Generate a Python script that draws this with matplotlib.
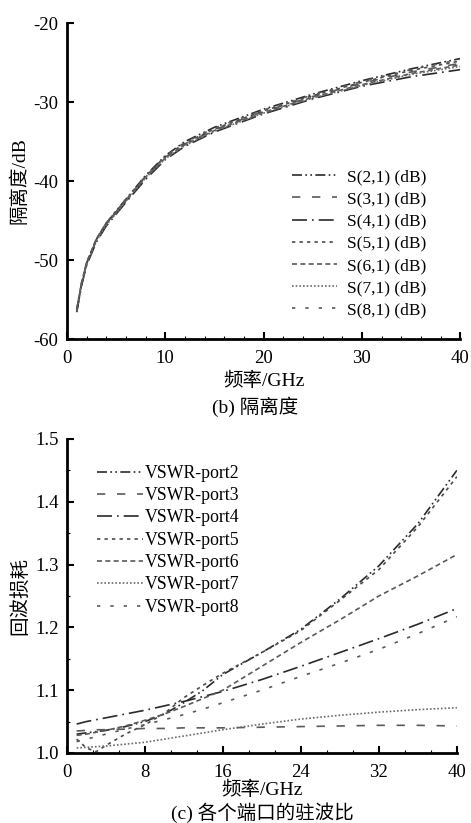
import numpy as np
import matplotlib
matplotlib.use('Agg')
from matplotlib import pyplot as plt
from matplotlib.ticker import MultipleLocator, FormatStrFormatter

plt.rcParams['font.family'] = ['Liberation Serif', 'Noto Sans CJK SC']
plt.rcParams['axes.unicode_minus'] = False

# (b) 隔离度 data
freq_iso = [1, 1.5, 2, 3, 4, 5, 6, 8, 10, 12, 15, 20, 25, 30, 35, 40]
s21 = [-56.5, -53.0, -50.4, -47.4, -45.4, -43.8, -42.3, -39.3, -36.8, -35.0, -33.2, -30.9, -29.0, -27.3, -25.8, -24.5]
s31 = [-56.3, -52.9, -50.5, -47.5, -45.5, -44.0, -42.5, -39.5, -37.0, -35.3, -33.5, -31.2, -29.3, -27.6, -26.2, -25.1]
s41 = [-56.6, -53.2, -50.7, -47.7, -45.7, -44.2, -42.7, -39.8, -37.3, -35.6, -33.8, -31.5, -29.6, -28.0, -26.8, -25.9]
s51 = [-56.4, -53.0, -50.5, -47.4, -45.3, -43.8, -42.4, -39.4, -36.9, -35.2, -33.4, -31.1, -29.2, -27.5, -26.0, -24.8]
s61 = [-56.2, -52.8, -50.3, -47.3, -45.3, -43.9, -42.4, -39.5, -37.1, -35.4, -33.6, -31.3, -29.4, -27.8, -26.4, -25.3]
s71 = [-56.5, -53.1, -50.6, -47.6, -45.6, -44.1, -42.6, -39.6, -37.2, -35.5, -33.7, -31.4, -29.5, -27.9, -26.5, -25.5]
s81 = [-56.3, -52.9, -50.4, -47.4, -45.4, -43.9, -42.3, -39.4, -36.9, -35.1, -33.3, -31.0, -29.1, -27.4, -25.9, -24.6]
iso_labels = ['S(2,1) (dB)', 'S(3,1) (dB)', 'S(4,1) (dB)', 'S(5,1) (dB)',
              'S(6,1) (dB)', 'S(7,1) (dB)', 'S(8,1) (dB)']

# (c) 驻波比 data
freq_vswr = [1, 2, 3, 4, 6, 8, 10, 12, 14, 16, 20, 24, 28, 32, 36, 40]
port2 = [1.030, 1.032, 1.034, 1.036, 1.042, 1.050, 1.062, 1.080, 1.100, 1.125, 1.160, 1.197, 1.245, 1.298, 1.365, 1.450]
port3 = [1.035, 1.036, 1.037, 1.037, 1.038, 1.039, 1.039, 1.040, 1.040, 1.040, 1.041, 1.042, 1.043, 1.044, 1.044, 1.043]
port4 = [1.046, 1.050, 1.053, 1.056, 1.062, 1.068, 1.075, 1.082, 1.090, 1.098, 1.117, 1.138, 1.160, 1.182, 1.205, 1.230]
port5 = [1.022, 1.008, 1.002, 1.012, 1.030, 1.045, 1.063, 1.088, 1.108, 1.127, 1.160, 1.195, 1.243, 1.292, 1.360, 1.440]
port6 = [1.028, 1.030, 1.033, 1.036, 1.043, 1.052, 1.062, 1.074, 1.087, 1.100, 1.138, 1.176, 1.212, 1.250, 1.282, 1.316]
port7 = [1.008, 1.009, 1.010, 1.011, 1.014, 1.017, 1.022, 1.027, 1.032, 1.037, 1.046, 1.054, 1.060, 1.065, 1.069, 1.072]
port8 = [1.018, 1.022, 1.026, 1.030, 1.038, 1.045, 1.053, 1.061, 1.070, 1.080, 1.100, 1.122, 1.143, 1.165, 1.190, 1.217]
vswr_labels = ['VSWR-port2', 'VSWR-port3', 'VSWR-port4', 'VSWR-port5',
               'VSWR-port6', 'VSWR-port7', 'VSWR-port8']

styles = [(0, (6, 2, 1, 2, 1, 2)),
          (0, (5, 7)),
          (0, (9, 3, 1, 3)),
          (0, (2, 2.5)),
          (0, (3, 2)),
          (0, (1, 1.2)),
          (0, (2, 6))]
colors = ['#2a2a2a', '#5a5a5a', '#2a2a2a', '#4a4a4a', '#5a5a5a', '#6a6a6a', '#5a5a5a']


def style_axes(ax):
    ax.spines['top'].set_visible(False)
    ax.spines['right'].set_visible(False)
    ax.spines['left'].set_linewidth(2)
    ax.spines['bottom'].set_linewidth(2)
    ax.tick_params(which='major', direction='in', length=5, width=1.5, labelsize=13.5, pad=6)
    ax.tick_params(which='minor', direction='in', length=2.5, width=0.8)
    ax.tick_params(axis='x', pad=8)


fig = plt.figure(figsize=(4.71, 8.23), dpi=100)

# 上图 隔离度
ax1 = fig.add_axes([0.142, 0.588, 0.835, 0.384])
for y, lab, ls, c in zip([s21, s31, s41, s51, s61, s71, s81], iso_labels, styles, colors):
    ax1.plot(freq_iso, y, linestyle=ls, color=c, lw=1.2, label=lab)
ax1.set_xlim(0, 40)
ax1.set_ylim(-60, -20)
ax1.xaxis.set_major_locator(MultipleLocator(10))
ax1.xaxis.set_minor_locator(MultipleLocator(2))
ax1.yaxis.set_major_locator(MultipleLocator(10))
style_axes(ax1)
ax1.set_ylabel('隔离度/dB', fontsize=14, labelpad=4)
ax1.set_xlabel('频率/GHz', fontsize=14, labelpad=3)
ax1.legend(loc='lower right', bbox_to_anchor=(0.915, 0.065), frameon=False, fontsize=12.5,
           handlelength=2.6, handletextpad=0.6, labelspacing=0.35, borderpad=0, borderaxespad=0)
fig.text(255 / 471, 1 - 407 / 823, '(b) 隔离度', ha='center', va='center', fontsize=14)

# 下图 驻波比
ax2 = fig.add_axes([0.142, 0.0851, 0.828, 0.3815])
for y, lab, ls, c in zip([port2, port3, port4, port5, port6, port7, port8], vswr_labels, styles, colors):
    ax2.plot(freq_vswr, y, linestyle=ls, color=c, lw=1.2, label=lab)
ax2.set_xlim(0, 40)
ax2.set_ylim(1.0, 1.5)
ax2.xaxis.set_major_locator(MultipleLocator(8))
ax2.xaxis.set_minor_locator(MultipleLocator(8 / 3))
ax2.yaxis.set_major_locator(MultipleLocator(0.1))
ax2.yaxis.set_minor_locator(MultipleLocator(0.05))
ax2.yaxis.set_major_formatter(FormatStrFormatter('%.1f'))
style_axes(ax2)
ax2.set_ylabel('回波损耗', fontsize=14, labelpad=4)
ax2.set_xlabel('频率/GHz', fontsize=14, labelpad=0)
ax2.legend(loc='upper left', bbox_to_anchor=(0.077, 0.918), frameon=False, fontsize=12.8,
           handlelength=2.6, handletextpad=0.1, labelspacing=0.3, borderpad=0, borderaxespad=0)
fig.text(262 / 471, 1 - 813 / 823, '(c) 各个端口的驻波比', ha='center', va='center', fontsize=14)

fig.savefig('out.png', dpi=100)
